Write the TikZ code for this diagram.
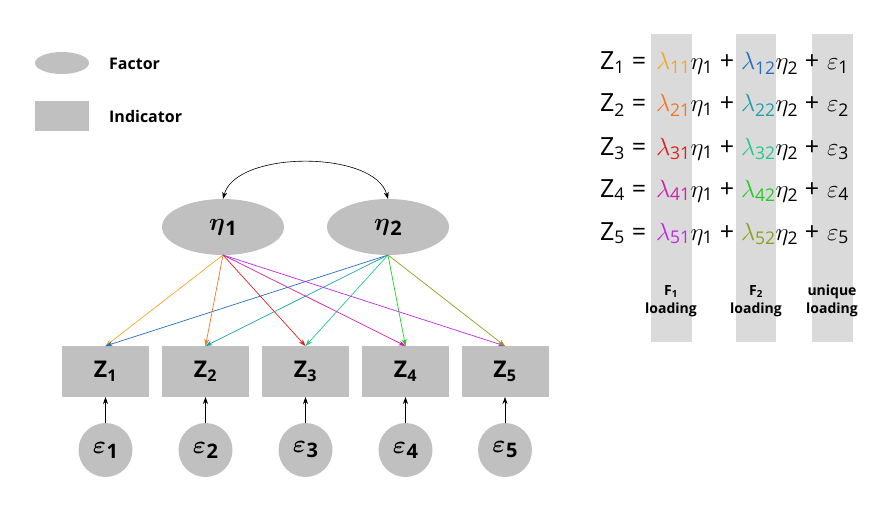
\documentclass[tikz,border=0pt]{standalone}
\usepackage{amsmath,bm}
\usepackage{fontspec}
\setmainfont{Open Sans}
\usetikzlibrary{arrows.meta,shapes.geometric}
\definecolor{boxgray}{RGB}{192,192,192}
\definecolor{stripgray}{RGB}{218,218,218}
\definecolor{c11}{RGB}{240,168,40}
\definecolor{c12}{RGB}{40,110,190}
\definecolor{c21}{RGB}{240,120,40}
\definecolor{c22}{RGB}{30,160,170}
\definecolor{c31}{RGB}{230,30,30}
\definecolor{c32}{RGB}{40,200,140}
\definecolor{c41}{RGB}{210,30,170}
\definecolor{c42}{RGB}{40,200,40}
\definecolor{c51}{RGB}{190,40,230}
\definecolor{c52}{RGB}{140,160,30}
\newcommand{\biglabel}[2]{{\fontsize{31}{34}\selectfont$\bm{#1}$}\kern0.5pt\raisebox{-5pt}{\fontsize{20}{22}\selectfont\bfseries #2}}
\begin{document}
\begin{tikzpicture}[x=1pt,y=-1pt,
  factor/.style={ellipse,fill=boxgray,inner sep=0pt,outer sep=0pt},
  indicator/.style={rectangle,fill=boxgray,inner sep=0pt,outer sep=0pt,minimum width=87,minimum height=51,font=\fontsize{23}{26}\selectfont\bfseries},
  errnode/.style={circle,fill=boxgray,inner sep=0pt,outer sep=0pt,minimum size=54},
  legtext/.style={anchor=west,inner sep=0pt,font=\fontsize{16}{19}\selectfont\bfseries},
  eq/.style={inner sep=0pt,outer sep=0pt,anchor=base west,font=\fontsize{25}{30}\selectfont},
  eqc/.style={inner sep=0pt,outer sep=0pt,anchor=base,font=\fontsize{25}{30}\selectfont},
  collabel/.style={align=center,inner sep=0pt,font=\fontsize{14}{18}\selectfont\bfseries},
  arr/.style={-{Stealth[length=7pt,width=5pt]},line width=0.6pt},
  load/.style={-{Stealth[length=7pt,width=5pt]},line width=0.7pt}
]
\useasboundingbox (0,0) rectangle (887,527);
% strips
\fill[stripgray] (651,34) rectangle (692,342);
\fill[stripgray] (736,34) rectangle (776,342);
\fill[stripgray] (812,34) rectangle (853,342);
% legend
\node[factor,minimum width=54,minimum height=22] (legf) at (62,63) {};
\node[legtext] (legft) at (109,64) {Factor};
\node[rectangle,fill=boxgray,minimum width=54,minimum height=30,inner sep=0pt] (legi) at (62,116) {};
\node[legtext] (legit) at (109,116) {Indicator};
% factors
\node[factor,minimum width=122,minimum height=56] (f1) at (223,227) {\biglabel{\eta}{1}};
\node[factor,minimum width=122,minimum height=56] (f2) at (388,227) {\biglabel{\eta}{2}};
\draw[{Stealth[length=7pt,width=5pt]}-{Stealth[length=7pt,width=5pt]},line width=0.6pt] (f1.north) .. controls (236,150) and (375,150) .. (f2.north);
% indicators and errors
\foreach \i/\x in {1/105.5,2/205.5,3/305.5,4/405.5,5/505}{
  \node[indicator] (z\i) at (\x,371.5) {Z\textsubscript{\i}};
  \node[errnode] (e\i) at (\x,450) {\biglabel{\varepsilon}{\i}};
  \draw[arr] (e\i.north) -- (z\i.south);
}
% loadings
\foreach \i in {1,...,5}{
  \draw[load,c\i1] (f1.south) -- (z\i.north);
  \draw[load,c\i2] (f2.south) -- (z\i.north);
}
% equations
\foreach \i/\y in {1/70,2/112,3/155,4/197,5/240}{
  \node[eq] (lhs\i) at (600,\y) {Z\textsubscript{\i}};
  \node[eqc] (eqs\i) at (639,\y) {=};
  \node[eq] (ta\i) at (656,\y) {{\color{c\i1}$\lambda_{\text{\i1}}$}$\eta_{\text{1}}$};
  \node[eqc] (pa\i) at (727,\y) {+};
  \node[eq] (tb\i) at (741,\y) {{\color{c\i2}$\lambda_{\text{\i2}}$}$\eta_{\text{2}}$};
  \node[eqc] (pb\i) at (812,\y) {+};
  \node[eq] (te\i) at (827,\y) {$\varepsilon_{\text{\i}}$};
}
% column labels
\node[collabel] (l1) at (671,301) {F\textsubscript{1}\\loading};
\node[collabel] (l2) at (756,301) {F\textsubscript{2}\\loading};
\node[collabel] (l3) at (832,301) {unique\\loading};
\end{tikzpicture}
\end{document}
